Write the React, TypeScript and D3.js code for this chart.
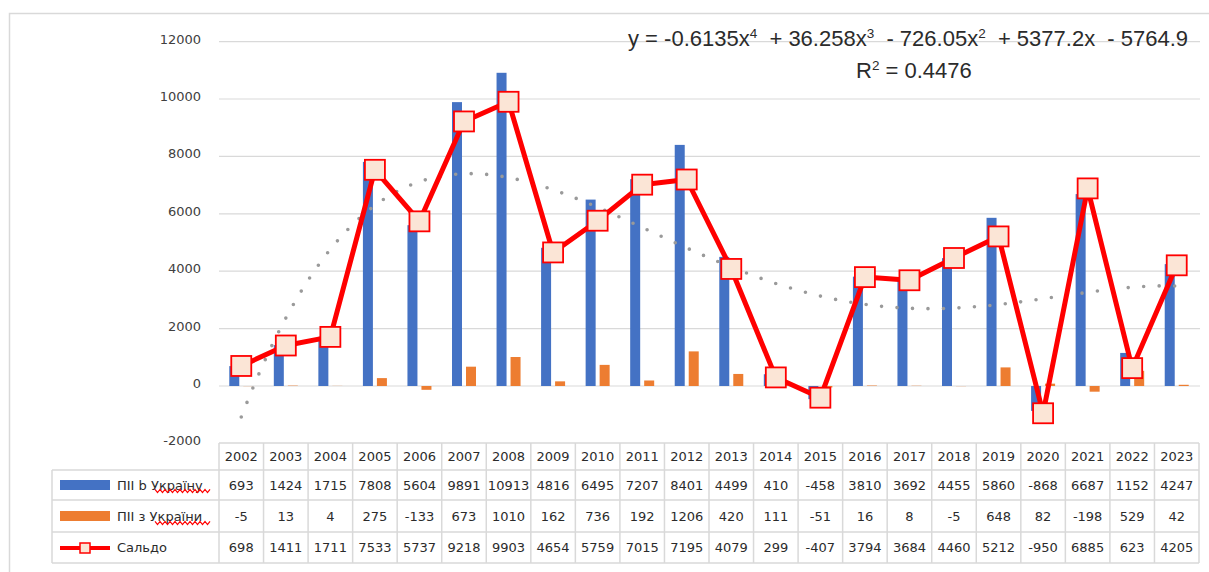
import * as d3 from 'd3';

// --- data ---
const years = ['2002', '2003', '2004', '2005', '2006', '2007', '2008', '2009', '2010', '2011', '2012',
  '2013', '2014', '2015', '2016', '2017', '2018', '2019', '2020', '2021', '2022', '2023'];
const fdiIn = [693, 1424, 1715, 7808, 5604, 9891, 10913, 4816, 6495, 7207, 8401, 4499, 410, -458, 3810,
  3692, 4455, 5860, -868, 6687, 1152, 4247];
const fdiOut = [-5, 13, 4, 275, -133, 673, 1010, 162, 736, 192, 1206, 420, 111, -51, 16, 8, -5, 648, 82,
  -198, 529, 42];
const balance = [698, 1411, 1711, 7533, 5737, 9218, 9903, 4654, 5759, 7015, 7195, 4079, 299, -407, 3794,
  3684, 4460, 5212, -950, 6885, 623, 4205];
const yTicks = [-2000, 0, 2000, 4000, 6000, 8000, 10000, 12000];
const seriesNames = ['ПІІ b Україну', 'ПІІ з України', 'Сальдо'];
// polynomial trendline shown on the chart (x^4 .. x^0)
const trendCoef = [-0.6135, 36.258, -726.05, 5377.2, -5764.9];

const W = 1209;
const H = 572;
const BLUE = '#4472C4';
const ORANGE = '#ED7D31';
const RED = '#FF0000';
const GRID = '#D9D9D9';
const TXT = '#2b2b2b';
const FONT = 'DejaVu Sans, sans-serif';

function squiggle(x0: number, x1: number, y: number) {
  // spell-check style wavy underline
  const pts = d3.range(x0, x1 + 0.1, 2.5).map((x, i) => [x, y + (i % 2 === 0 ? -1.6 : 1.6)] as [number, number]);
  return d3.line()(pts) || '';
}

export default function App() {
  const x = d3.scaleBand<string>().domain(years).range([219, 1199]).padding(0);
  const bw = x.bandwidth();
  const cx = (y: string) => (x(y) as number) + bw / 2;
  const y = d3.scaleLinear().domain([0, 10000]).range([386, 99]);

  const line = d3.line<number>()
    .x((_, i) => cx(years[i]))
    .y((d) => y(d));

  const trendPts = d3.range(1, 22.001, 0.2).map((t) => {
    const v = trendCoef.reduce((acc, c) => acc * t + c, 0);
    return [219 + (t - 0.5) * bw, y(v)] as [number, number];
  });
  const trend = d3.line().curve(d3.curveMonotoneX)(trendPts) || '';

  const rows = [fdiIn, fdiOut, balance];
  const rowY = [470, 500, 532, 563];
  const headTop = 443;
  const legendLeft = 52;

  return (
    <svg width={W} height={H} style={{ position: 'fixed', left: 0, top: 0, background: '#fff' }}>
      {/* chart frame */}
      <path d={`M9.5,${H}V13.5H${W}`} fill="none" stroke={GRID} strokeWidth={1.5} />

      {/* gridlines + y labels */}
      {yTicks.map((t) => (
        <g key={t}>
          {t > -2000 && (
            <line x1={219} x2={1200} y1={y(t)} y2={y(t)} stroke={GRID} strokeWidth={1.2} />
          )}
          <text x={201} y={y(t) - 1.5} textAnchor="end" dominantBaseline="middle"
            fontFamily={FONT} fontSize={13} fill="#404040">{t}</text>
        </g>
      ))}

      {/* bars */}
      {years.map((yr, i) => (
        <g key={yr}>
          <rect x={cx(yr) - 12} width={10} y={Math.min(y(fdiIn[i]), y(0))}
            height={Math.abs(y(fdiIn[i]) - y(0))} fill={BLUE} />
          <rect x={cx(yr) + 2} width={10} y={Math.min(y(fdiOut[i]), y(0))}
            height={Math.abs(y(fdiOut[i]) - y(0))} fill={ORANGE} />
        </g>
      ))}

      {/* trendline */}
      <path d={trend} fill="none" stroke="#9A9A9A" strokeWidth={3.6} strokeDasharray="0 15.5"
        strokeLinecap="round" />

      {/* balance line */}
      <path d={line(balance) || ''} fill="none" stroke={RED} strokeWidth={5} strokeLinejoin="round" />
      {balance.map((v, i) => (
        <rect key={i} x={cx(years[i]) - 10} y={y(v) - 10} width={20} height={20}
          fill="#FBE5D6" stroke={RED} strokeWidth={1.8} />
      ))}

      {/* equation */}
      <text x={628} y={46} fontFamily="Liberation Sans, sans-serif" fontSize={22} fill={TXT}
        style={{ whiteSpace: 'pre' }}>
        <tspan>y = -0.6135x</tspan><tspan fontSize={13.5} dy={-8}>4</tspan>
        <tspan dy={8}>  + 36.258x</tspan><tspan fontSize={13.5} dy={-8}>3</tspan>
        <tspan dy={8}>  - 726.05x</tspan><tspan fontSize={13.5} dy={-8}>2</tspan>
        <tspan dy={8}>  + 5377.2x  - 5764.9</tspan>
      </text>
      <text x={856} y={78} fontFamily="Liberation Sans, sans-serif" fontSize={22} fill={TXT}>
        <tspan>R</tspan><tspan fontSize={13.5} dy={-8}>2</tspan><tspan dy={8}> = 0.4476</tspan>
      </text>

      {/* data table */}
      <g stroke={GRID} strokeWidth={1.5} fill="none">
        <line x1={219} x2={1199} y1={headTop} y2={headTop} />
        {rowY.map((ry) => (
          <line key={ry} x1={legendLeft} x2={1199} y1={ry} y2={ry} />
        ))}
        <line x1={legendLeft} x2={legendLeft} y1={rowY[0]} y2={rowY[3]} />
        {years.map((yr) => (
          <line key={yr} x1={x(yr)} x2={x(yr)} y1={headTop} y2={rowY[3]} />
        ))}
        <line x1={1199} x2={1199} y1={headTop} y2={rowY[3]} />
      </g>
      {years.map((yr) => (
        <text key={yr} x={cx(yr)} y={(headTop + rowY[0]) / 2 + 1} textAnchor="middle"
          dominantBaseline="middle" fontFamily={FONT} fontSize={13} fill={TXT}>{yr}</text>
      ))}
      {rows.map((vals, r) => (
        <g key={r}>
          {vals.map((v, i) => (
            <text key={i} x={cx(years[i])} y={(rowY[r] + rowY[r + 1]) / 2 + 1} textAnchor="middle"
              dominantBaseline="middle" fontFamily={FONT} fontSize={13} fill={TXT}>{v}</text>
          ))}
          <text x={117} y={(rowY[r] + rowY[r + 1]) / 2 + 1} dominantBaseline="middle"
            fontFamily={FONT} fontSize={13} fill={TXT}>{seriesNames[r]}</text>
        </g>
      ))}

      {/* legend keys */}
      <rect x={60} y={480} width={50} height={10} fill={BLUE} />
      <rect x={60} y={511} width={50} height={10} fill={ORANGE} />
      <line x1={60} x2={110} y1={548} y2={548} stroke={RED} strokeWidth={4} />
      <rect x={80} y={543} width={10} height={10} fill="#FBE5D6" stroke={RED} strokeWidth={1.5} />
      <path d={squiggle(155, 212, 491)} fill="none" stroke={RED} strokeWidth={1.2} />
      <path d={squiggle(155, 212, 523)} fill="none" stroke={RED} strokeWidth={1.2} />
    </svg>
  );
}
